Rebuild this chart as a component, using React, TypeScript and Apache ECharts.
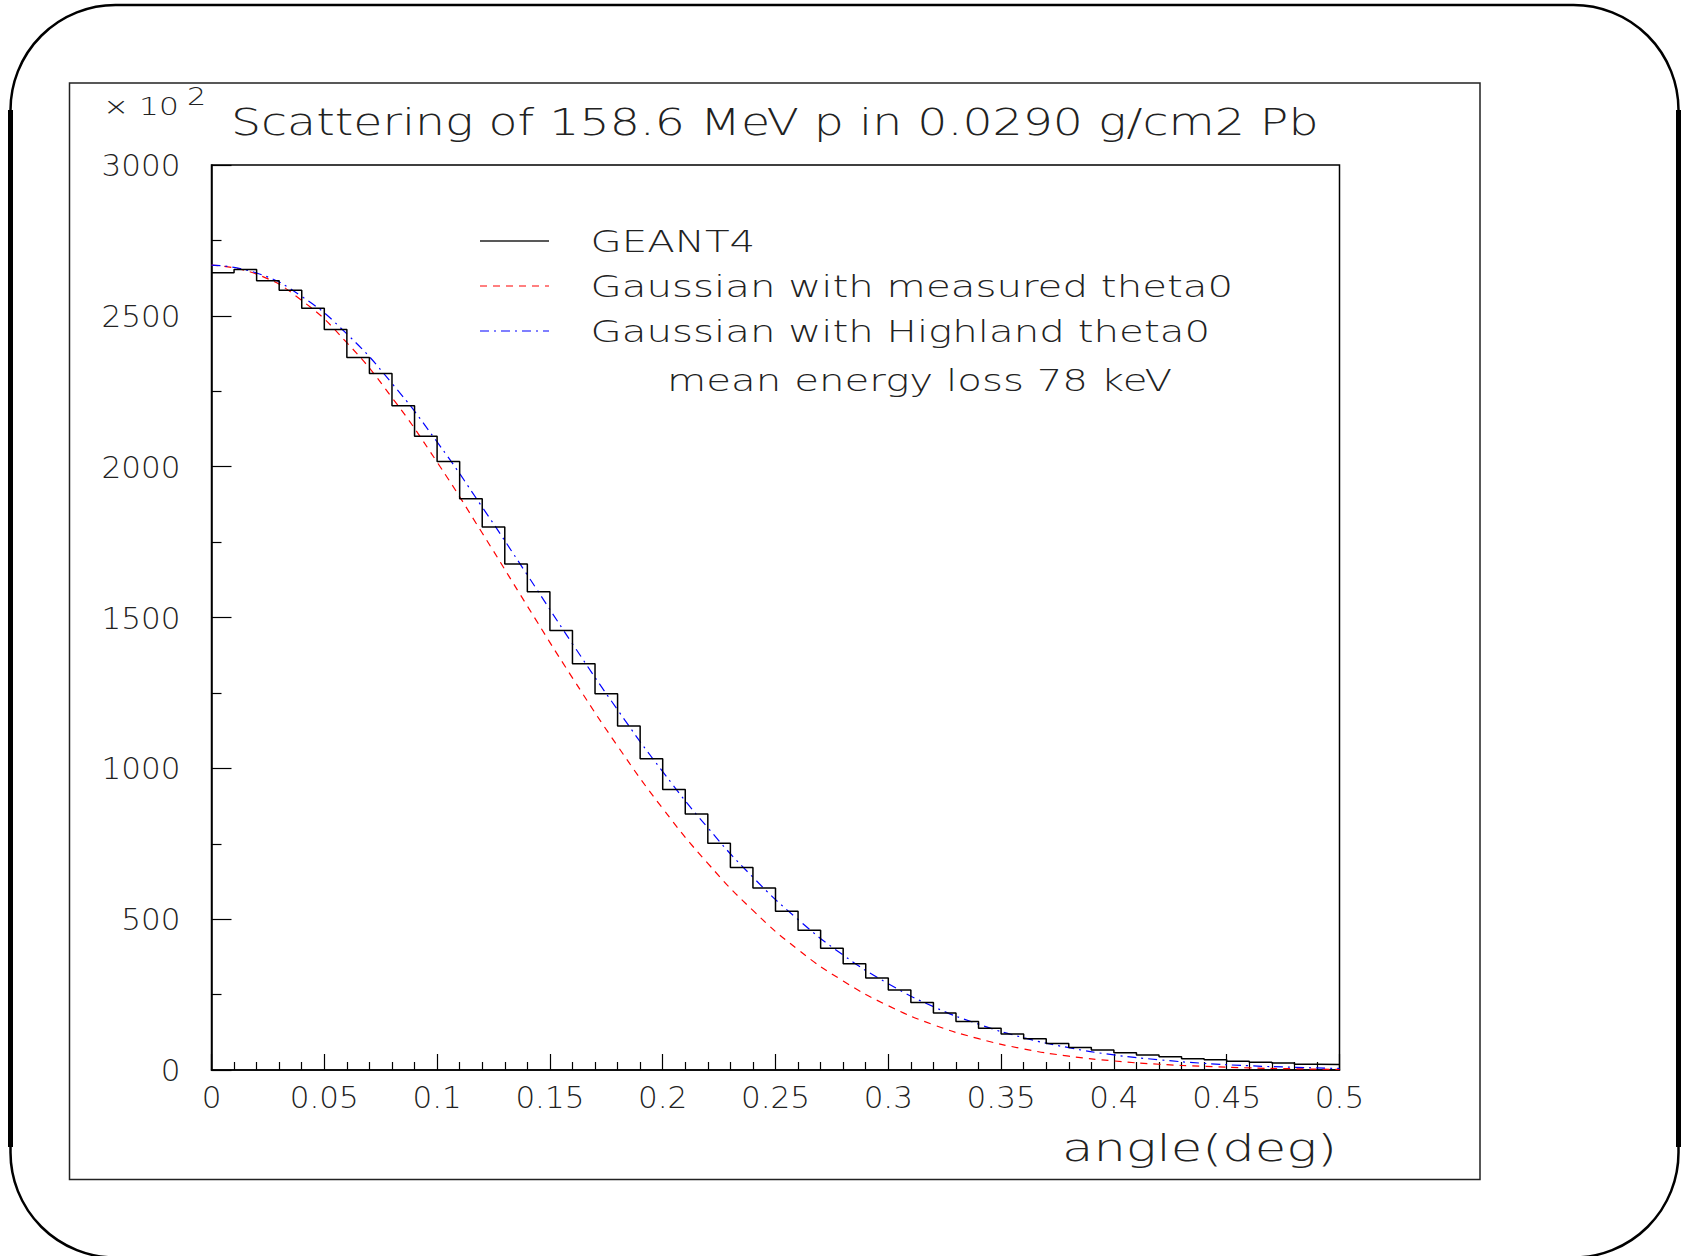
import React, { useEffect, useRef } from "react";
import * as echarts from "echarts";

// ---------------- data ----------------
const titleText = "Scattering of 158.6 MeV p in 0.0290 g/cm2 Pb";
const xAxisName = "angle(deg)";
const yScaleNote = "× 10";
const yScaleExp = "2";

// histogram binning (50 bins of 0.01 deg from 0 to 0.5)
const binStart = 0;
const binWidth = 0.01;
// GEANT4 histogram contents (units of 10^2)
const geant4Counts = [
  2643, 2654, 2616, 2585, 2525, 2455, 2362, 2309, 2202, 2101,
  2017, 1894, 1800, 1677, 1585, 1457, 1347, 1247, 1140, 1032,
  930, 849, 752, 671, 603, 526, 463, 404, 352, 305,
  265, 224, 189, 161, 138, 119, 104, 88, 75, 66,
  57, 50, 44, 37, 34, 29, 26, 23, 19, 18,
];

// curve sample angles
const curveAngles = [
  0, 0.02, 0.04, 0.06, 0.08, 0.1, 0.12, 0.14, 0.16, 0.18, 0.2, 0.22, 0.24,
  0.26, 0.28, 0.3, 0.32, 0.34, 0.36, 0.38, 0.4, 0.42, 0.44, 0.46, 0.48, 0.5,
];
// Gaussian with measured theta0 (red dashed)
const gaussMeasured = [
  2668, 2638, 2551, 2411, 2229, 2015, 1780, 1538, 1300, 1074, 867, 685, 529,
  399, 295, 213, 150, 104, 70, 46, 30, 19, 12, 7, 4, 2,
];
// Gaussian with Highland theta0 (blue dash-dot)
const gaussHighland = [
  2668, 2642, 2564, 2440, 2276, 2082, 1866, 1641, 1413, 1194, 989, 803, 639,
  499, 381, 286, 210, 152, 107, 74, 50, 34, 22, 14, 9, 5,
];

const legendLabels = [
  "GEANT4",
  "Gaussian with measured theta0",
  "Gaussian with Highland theta0",
];
const legendNote = "mean energy loss 78 keV";

// axis settings
const xMin = 0;
const xMax = 0.5;
const xInterval = 0.05;
const yMin = 0;
const yMax = 3000;
const yInterval = 500;

// ---------------- helpers ----------------
const FONT = '"DejaVu Sans", "Liberation Sans", sans-serif';
const WEIGHT = 200;
const TEXT_COLOR = "#222";

function measure(text: string, size: number): number {
  const c = document.createElement("canvas");
  const ctx = c.getContext("2d")!;
  ctx.font = `${WEIGHT} ${size}px "DejaVu Sans"`;
  return ctx.measureText(text).width || text.length * size * 0.6;
}

export default function App() {
  const ref = useRef<HTMLDivElement>(null);

  useEffect(() => {
    document.body.style.margin = "0";
    const chart = echarts.init(ref.current!, undefined, {
      renderer: "svg",
      width: 1684,
      height: 1256,
    });

    // histogram as explicit step outline
    const histPoints: [number, number][] = [];
    geant4Counts.forEach((v, i) => {
      const lo = binStart + i * binWidth;
      const hi = binStart + (i + 1) * binWidth;
      histPoints.push([lo, v]);
      histPoints.push([hi, v]);
    });

    const redPts = curveAngles.map((a, i) => [a, gaussMeasured[i]]);
    const bluePts = curveAngles.map((a, i) => [a, gaussHighland[i]]);

    // text sizing
    const titleSize = 37;
    const titleScale = 1088 / measure(titleText, titleSize);
    const legSize = 31;
    const legScale = 643 / measure(legendLabels[1], legSize);
    const nameSize = 38;
    const nameScale = 275 / measure(xAxisName, nameSize);

    const txt = (
      text: string,
      x: number,
      y: number,
      size: number,
      scaleX: number,
      align: string = "left"
    ) => ({
      type: "text",
      x,
      y,
      scaleX,
      silent: true,
      style: {
        text,
        fontSize: size,
        fontFamily: FONT,
        fontWeight: WEIGHT,
        fill: TEXT_COLOR,
        align,
        verticalAlign: "middle",
      },
    });

    const legendY = [241, 286, 331];
    const legendStyles = [
      { stroke: "#222", lineWidth: 1.5 },
      { stroke: "#ff0000", lineWidth: 1.2, lineDash: [7, 6] },
      { stroke: "#0000ff", lineWidth: 1.2, lineDash: [9, 5, 2, 5] },
    ];

    const graphic: any[] = [
      {
        type: "rect",
        silent: true,
        shape: { x: 10.5, y: 5, width: 1668, height: 1252.5, r: 105 },
        style: { fill: "none", stroke: "#000", lineWidth: 2.5 },
      },
      {
        type: "line",
        silent: true,
        shape: { x1: 10.5, y1: 110, x2: 10.5, y2: 1147 },
        style: { stroke: "#000", lineWidth: 5 },
      },
      {
        type: "line",
        silent: true,
        shape: { x1: 1678.5, y1: 110, x2: 1678.5, y2: 1147 },
        style: { stroke: "#000", lineWidth: 5 },
      },
      {
        type: "rect",
        silent: true,
        shape: { x: 69.5, y: 83, width: 1410.5, height: 1096.5 },
        style: { fill: "none", stroke: "#222", lineWidth: 1.5 },
      },
      txt(titleText, 231, 122, titleSize, titleScale),
      txt(yScaleNote, 103, 107, 25, 1.25),
      txt(yScaleExp, 187, 96, 25, 1.2),
      txt(xAxisName, 1337, 1148, nameSize, nameScale, "right"),
    ];
    legendLabels.forEach((lab, i) => {
      graphic.push({
        type: "line",
        silent: true,
        shape: { x1: 480, y1: legendY[i], x2: 549, y2: legendY[i] },
        style: legendStyles[i],
      });
      graphic.push(txt(lab, 590.5, legendY[i], legSize, legScale));
    });
    graphic.push(txt(legendNote, 667, 380, legSize, legScale));

    const labelStyle = {
      fontSize: 31,
      fontFamily: FONT,
      fontWeight: WEIGHT,
      color: TEXT_COLOR,
    };

    const option: any = {
      animation: false,
      backgroundColor: "#fff",
      grid: {
        left: 211.5,
        top: 165,
        right: 344.5,
        bottom: 186,
        show: true,
        borderColor: "#000",
        borderWidth: 1.5,
        backgroundColor: "transparent",
        containLabel: false,
        outerBoundsMode: "none",
      },
      xAxis: {
        type: "value",
        min: xMin,
        max: xMax,
        interval: xInterval,
        axisLine: { show: true, onZero: false, lineStyle: { color: "#000", width: 1.5 } },
        axisTick: { show: true, inside: true, length: 16, lineStyle: { color: "#000", width: 1.2 } },
        minorTick: { show: true, splitNumber: 5, length: 8, lineStyle: { color: "#000", width: 1.2 } },
        splitLine: { show: false },
        minorSplitLine: { show: false },
        axisLabel: {
          ...labelStyle,
          margin: 11,
          formatter: (v: number) => String(Math.round(v * 1000) / 1000),
        },
      },
      yAxis: {
        type: "value",
        min: yMin,
        max: yMax,
        interval: yInterval,
        axisLine: { show: true, onZero: false, lineStyle: { color: "#000", width: 1.5 } },
        axisTick: { show: true, inside: true, length: 20, lineStyle: { color: "#000", width: 1.2 } },
        minorTick: { show: true, splitNumber: 2, length: 10, lineStyle: { color: "#000", width: 1.2 } },
        splitLine: { show: false },
        minorSplitLine: { show: false },
        axisLabel: {
          ...labelStyle,
          margin: 31,
          formatter: (v: number) => String(Math.round(v)),
        },
      },
      series: [
        {
          name: legendLabels[0],
          type: "line",
          data: histPoints,
          showSymbol: false,
          symbol: "none",
          silent: true,
          lineStyle: { color: "#000", width: 1.5 },
          z: 3,
        },
        {
          name: legendLabels[1],
          type: "line",
          data: redPts,
          smooth: true,
          showSymbol: false,
          symbol: "none",
          silent: true,
          lineStyle: { color: "#ff0000", width: 1.2, type: [7, 6] },
          z: 2,
        },
        {
          name: legendLabels[2],
          type: "line",
          data: bluePts,
          smooth: true,
          showSymbol: false,
          symbol: "none",
          silent: true,
          lineStyle: { color: "#0000ff", width: 1.2, type: [9, 5, 2, 5] },
          z: 2,
        },
      ],
      graphic,
    };

    chart.setOption(option);
    return () => chart.dispose();
  }, []);

  return (
    <div
      ref={ref}
      style={{
        position: "absolute",
        left: 0,
        top: 0,
        width: 1684,
        height: 1256,
        background: "#fff",
      }}
    />
  );
}
